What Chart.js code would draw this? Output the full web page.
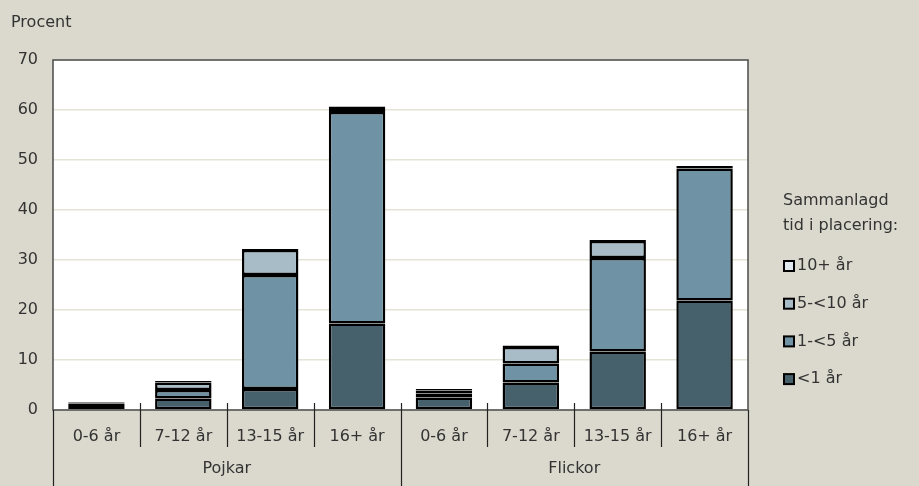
<!DOCTYPE html>
<html>
<head>
<meta charset="utf-8">
<script src="https://cdn.jsdelivr.net/npm/chart.js@4"></script>
<style>
  html, body { margin: 0; padding: 0; background: #dbd9cd; }
  #wrap { width: 919px; height: 486px; position: relative; }
</style>
</head>
<body>
<div id="wrap"><canvas id="chart"></canvas></div>
<script>
const ages = ['0-6 år', '7-12 år', '13-15 år', '16+ år', '0-6 år', '7-12 år', '13-15 år', '16+ år'];
const groups = ['Pojkar', 'Flickor'];
const seriesNames = ['<1 år', '1-<5 år', '5-<10 år', '10+ år'];
const lt1 = [1.0, 2.3, 4.2, 17.3, 2.5, 5.5, 11.7, 21.9];
const y1to5 = [0.3, 1.7, 22.8, 42.3, 0.8, 3.8, 18.7, 26.4];
const y5to10 = [0.2, 1.5, 5.0, 0.8, 0.6, 3.3, 3.4, 0.3];
const y10plus = [0.1, 0.3, 0.2, 0.3, 0.3, 0.3, 0.2, 0.2];
const yTicks = [0, 10, 20, 30, 40, 50, 60, 70];
const legendTitle = ['Sammanlagd', 'tid i placering:'];

const colors = ['#46606c', '#6f93a4', '#a8bcc7', '#e2e9ee'];
const FONT = '"DejaVu Sans", sans-serif';
const TEXT = '#333333';

const values = [lt1, y1to5, y5to10, y10plus];

// vit plotyta + ram
const frame = {
  id: 'frame',
  beforeDraw(chart) {
    const a = chart.chartArea, c = chart.ctx;
    c.save();
    c.fillStyle = '#ffffff';
    c.fillRect(a.left, a.top, a.right - a.left, a.bottom - a.top);
    c.restore();
  },
  afterDatasetsDraw(chart) {
    const a = chart.chartArea, c = chart.ctx;
    c.save();
    c.strokeStyle = '#4a4a4a';
    c.lineWidth = 1.5;
    c.strokeRect(a.left, a.top, a.right - a.left, a.bottom - a.top);
    c.restore();
  }
};

// kategoriaxel i två nivåer
const groupAxis = {
  id: 'groupAxis',
  afterDraw(chart) {
    const x = chart.scales.x, a = chart.chartArea, c = chart.ctx;
    const step = x.getPixelForValue(1) - x.getPixelForValue(0);
    c.save();
    c.strokeStyle = '#222';
    c.lineWidth = 1.2;
    for (let i = 0; i <= ages.length; i++) {
      const px = Math.round(x.getPixelForValue(i) - step / 2) + 0.5;
      c.beginPath();
      if (i % 4 === 0) {
        c.moveTo(px, i === 0 || i === ages.length ? a.bottom : a.bottom - 7);
        c.lineTo(px, 486);
      } else {
        c.moveTo(px, a.bottom - 7);
        c.lineTo(px, a.bottom + 37);
      }
      c.stroke();
    }
    c.fillStyle = TEXT;
    c.font = '16px ' + FONT;
    c.textAlign = 'center';
    c.textBaseline = 'middle';
    groups.forEach((g, gi) => {
      const cx = (x.getPixelForValue(gi * 4) + x.getPixelForValue(gi * 4 + 3)) / 2;
      c.fillText(g, cx, 469);
    });
    c.restore();
  }
};

// legend till höger
const sideLegend = {
  id: 'sideLegend',
  afterDraw(chart) {
    const c = chart.ctx;
    c.save();
    c.fillStyle = TEXT;
    c.font = '16px ' + FONT;
    c.textAlign = 'left';
    c.textBaseline = 'middle';
    legendTitle.forEach((t, i) => c.fillText(t, 783, 201 + i * 25));
    const ds = chart.data.datasets.slice().reverse();
    ds.forEach((d, i) => {
      const y = 266 + i * 37.7;
      c.fillStyle = d.backgroundColor;
      c.fillRect(784, y - 5, 10, 10);
      c.strokeStyle = '#000';
      c.lineWidth = 2;
      c.strokeRect(784, y - 5, 10, 10);
      c.fillStyle = TEXT;
      c.fillText(d.label, 797, y);
    });
    c.restore();
  }
};

new Chart(document.getElementById('chart'), {
  type: 'bar',
  data: {
    labels: ages,
    datasets: seriesNames.map((name, i) => ({
      label: name,
      data: values[i],
      backgroundColor: colors[i],
      borderColor: '#000000',
      borderWidth: 2.5,
      borderSkipped: false,
      barPercentage: 0.65,
      categoryPercentage: 1.0
    }))
  },
  options: {
    responsive: true,
    maintainAspectRatio: false,
    animation: false,
    layout: { padding: { top: 60, right: 171, left: 0, bottom: 0 } },
    plugins: {
      legend: { display: false },
      tooltip: { enabled: false },
      title: { display: false }
    },
    scales: {
      x: {
        stacked: true,
        grid: { display: false },
        border: { display: false },
        ticks: { color: TEXT, font: { family: FONT, size: 16 }, padding: 9, maxRotation: 0, autoSkip: false },
        afterFit: s => { s.height = 76; }
      },
      y: {
        stacked: true,
        min: 0,
        max: 70,
        afterBuildTicks: s => { s.ticks = yTicks.map(v => ({ value: v })); },
        grid: { color: '#e5e2d6', lineWidth: 1.5, drawTicks: false },
        border: { display: false },
        ticks: { color: TEXT, font: { family: FONT, size: 16 }, padding: 15 },
        afterFit: s => { s.width = 53; }
      }
    }
  },
  plugins: [frame, groupAxis, sideLegend,
    {
      id: 'procent',
      afterDraw(chart) {
        const c = chart.ctx;
        c.save();
        c.fillStyle = TEXT;
        c.font = '16px ' + FONT;
        c.textBaseline = 'middle';
        c.fillText('Procent', 11, 23);
        c.restore();
      }
    }]
});
</script>
</body>
</html>
